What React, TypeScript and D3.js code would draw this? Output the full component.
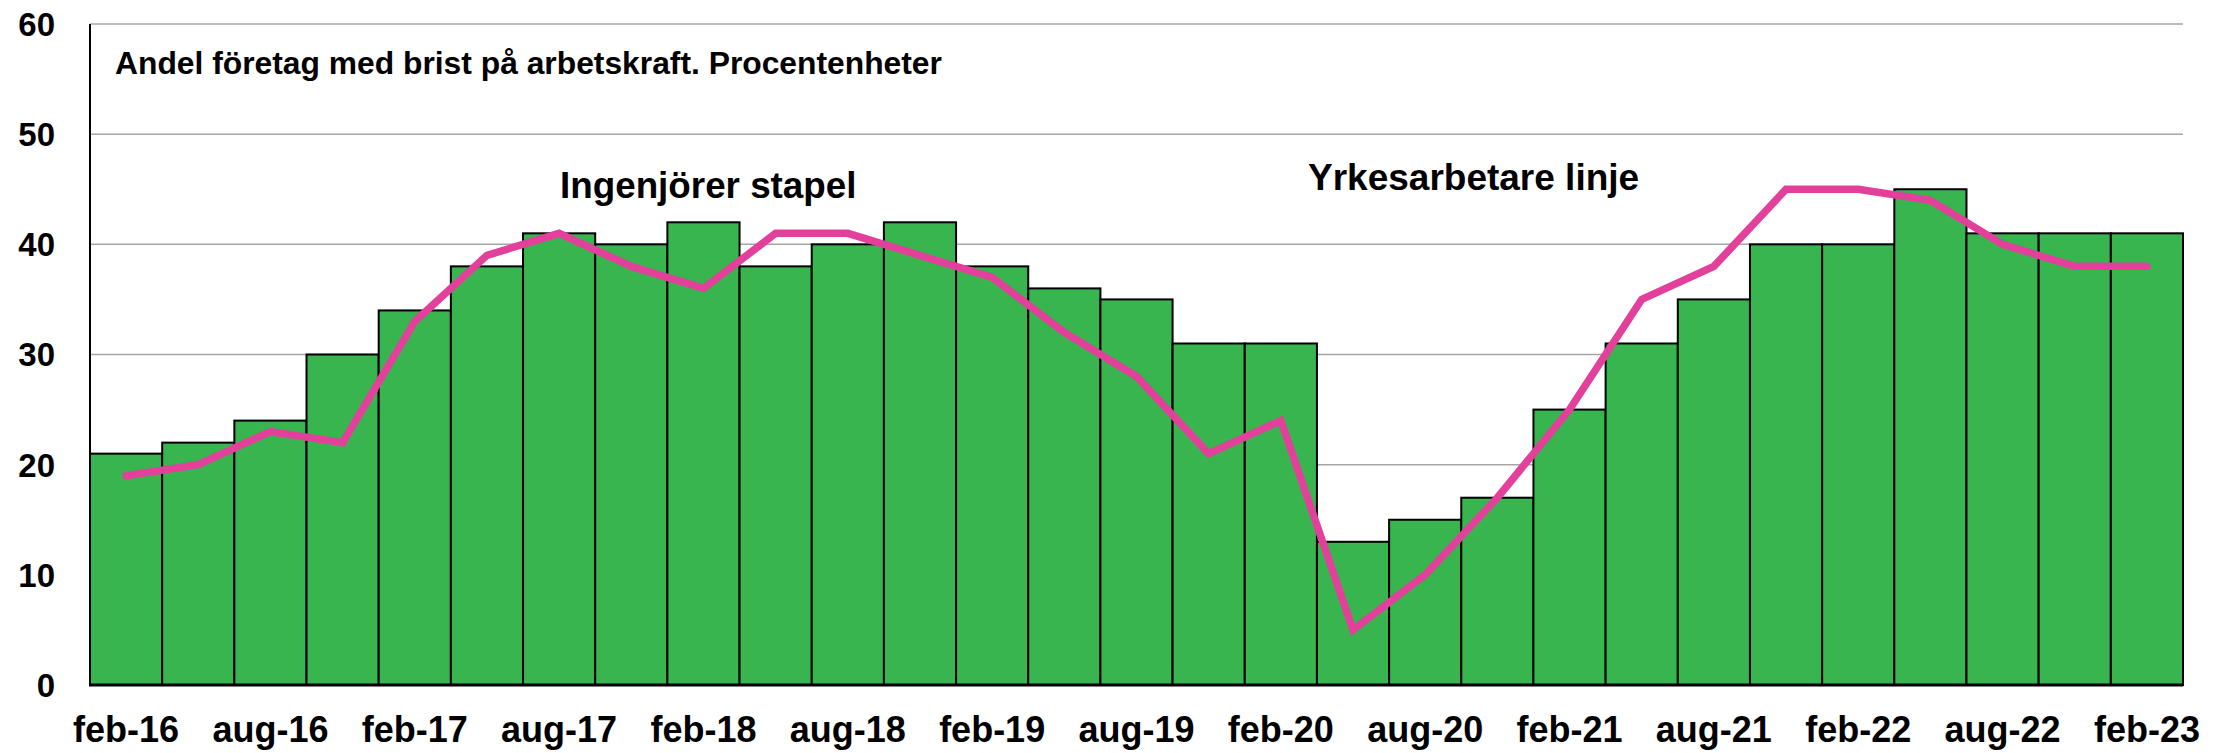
import React from 'react';
import * as d3 from 'd3';

// kvartal feb-16 .. feb-23
const periods = [
  'feb-16', 'maj-16', 'aug-16', 'nov-16',
  'feb-17', 'maj-17', 'aug-17', 'nov-17',
  'feb-18', 'maj-18', 'aug-18', 'nov-18',
  'feb-19', 'maj-19', 'aug-19', 'nov-19',
  'feb-20', 'maj-20', 'aug-20', 'nov-20',
  'feb-21', 'maj-21', 'aug-21', 'nov-21',
  'feb-22', 'maj-22', 'aug-22', 'nov-22',
  'feb-23',
];

// Ingenjörer (staplar)
const engineers = [
  21, 22, 24, 30,
  34, 38, 41, 40,
  42, 38, 40, 42,
  38, 36, 35, 31,
  31, 13, 15, 17,
  25, 31, 35, 40,
  40, 45, 41, 41,
  41,
];

// Yrkesarbetare (linje)
const workers = [
  19, 20, 23, 22,
  33, 39, 41, 38,
  36, 41, 41, 39,
  37, 32, 28, 21,
  24, 5, 10, 17,
  25, 35, 38, 45,
  45, 44, 40, 38,
  38,
];

const yTicks = [0, 10, 20, 30, 40, 50, 60];
const xTickLabels = periods.filter(p => p.startsWith('feb') || p.startsWith('aug'));

const W = 2229, H = 753;
const left = 90, right = 2183, top = 24, bottom = 685;
const font = '"Liberation Sans", Arial, sans-serif';

export default function App() {
  const x = d3.scaleBand<string>().domain(periods).range([left, right]).padding(0);
  const y = d3.scaleLinear().domain([0, 60]).range([bottom, top]);

  const line = d3.line<number>()
    .x((d, i) => x(periods[i])! + x.bandwidth() / 2)
    .y(d => y(d));

  return (
    <svg width={W} height={H} style={{ position: 'absolute', left: 0, top: 0, background: '#fff' }}>
      {/* gridlines */}
      {yTicks.filter(t => t > 0).map(t => (
        <line key={t} x1={left} x2={right} y1={y(t)} y2={y(t)} stroke="#a6a6a6" strokeWidth={1.5} />
      ))}
      {/* bars */}
      {engineers.map((v, i) => (
        <rect key={periods[i]}
          x={x(periods[i])}
          y={y(v)}
          width={x.bandwidth()}
          height={y(0) - y(v)}
          fill="#39b54f"
          stroke="#000"
          strokeWidth={2} />
      ))}
      {/* line */}
      <path d={line(workers) || ''} fill="none" stroke="#e2409b" strokeWidth={7.5}
        strokeLinecap="round" strokeLinejoin="miter" />
      {/* axes */}
      <line x1={left} x2={left} y1={top} y2={bottom} stroke="#000" strokeWidth={2} />
      <line x1={left - 1} x2={right} y1={bottom} y2={bottom} stroke="#000" strokeWidth={3} />
      {yTicks.map(t => (
        <text key={t} x={55} y={y(t)} dy="0.36em" textAnchor="end"
          fontFamily={font} fontWeight="bold" fontSize={33} fill="#000">{t}</text>
      ))}
      {xTickLabels.map(p => (
        <text key={p} x={x(p)! + x.bandwidth() / 2} y={742} textAnchor="middle"
          fontFamily={font} fontWeight="bold" fontSize={36} fill="#000">{p}</text>
      ))}
      {/* texts */}
      <text x={115} y={74} fontFamily={font} fontWeight="bold" fontSize={31.8} fill="#000">
        Andel företag med brist på arbetskraft. Procentenheter
      </text>
      <text x={560} y={198} fontFamily={font} fontWeight="bold" fontSize={36.8} fill="#000">
        Ingenjörer stapel
      </text>
      <text x={1308} y={190} fontFamily={font} fontWeight="bold" fontSize={37} fill="#000">
        Yrkesarbetare linje
      </text>
    </svg>
  );
}
